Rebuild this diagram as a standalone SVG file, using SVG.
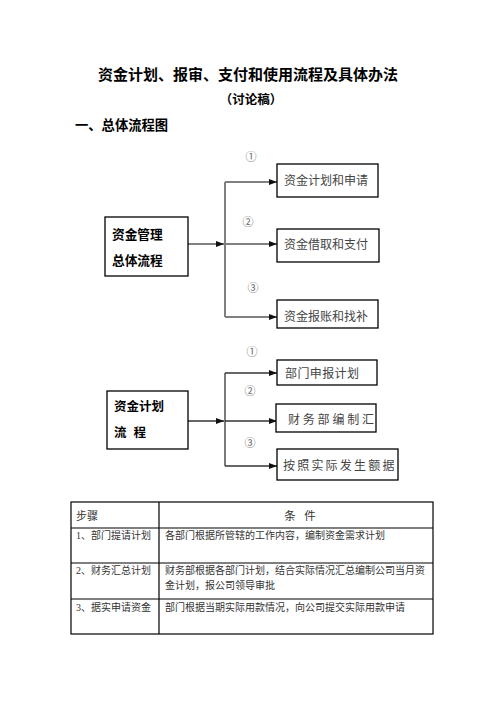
<svg xmlns="http://www.w3.org/2000/svg" width="496" height="702" viewBox="0 0 496 702">
<defs>
<marker id="arr" viewBox="0 0 8 6" refX="8" refY="3" markerWidth="8" markerHeight="6" markerUnits="userSpaceOnUse" orient="auto">
<path d="M0,0 L8,3 L0,6 Z" fill="#111"/>
</marker>
<style>
.t{font-family:"Liberation Serif","Noto Sans CJK SC",serif;}
.b{font-family:"Liberation Sans","Noto Sans CJK SC",sans-serif;font-weight:bold;fill:#000;}
.box{fill:#fff;stroke:#000;stroke-width:1.3;}
.lbl{font-size:12px;fill:#444;}
.num{font-size:11px;fill:#666;text-anchor:middle;}
.c1{stroke:#808080;stroke-width:2;fill:none;}
.c2{stroke:#333;stroke-width:1.3;fill:none;}
.tb{fill:none;stroke:#000;stroke-width:1.2;}
.tt{font-size:10px;fill:#333;}
</style>
</defs>
<rect width="496" height="702" fill="#fff"/>
<g id="title">
<text class="b" x="248" y="80" font-size="15" text-anchor="middle">资金计划、报审、支付和使用流程及具体办法</text>
<text class="b" x="251" y="104" font-size="12.5" text-anchor="middle">（讨论稿）</text>
<text class="b" x="75" y="130" font-size="13.3">一、总体流程图</text>
</g>
<g id="connectors">
<path class="c1" d="M188,244 H224" marker-end="url(#arr)"/>
<path class="c1" d="M225,182 V317"/>
<path class="c1" d="M225,182 H277" marker-end="url(#arr)"/>
<path class="c1" d="M225,244 H277" marker-end="url(#arr)"/>
<path class="c1" d="M225,317 H277" marker-end="url(#arr)"/>
<path class="c2" d="M188,421 H224" marker-end="url(#arr)"/>
<path class="c2" d="M225,373 V466"/>
<path class="c2" d="M225,373 H277" marker-end="url(#arr)"/>
<path class="c2" d="M225,421 H277" marker-end="url(#arr)"/>
<path class="c2" d="M225,466 H277" marker-end="url(#arr)"/>
</g>
<g id="nums" class="t">
<text class="num" x="251" y="161">①</text>
<text class="num" x="248" y="226">②</text>
<text class="num" x="253" y="292">③</text>
<text class="num" x="252" y="356">①</text>
<text class="num" x="250" y="395">②</text>
<text class="num" x="250" y="447">③</text>
</g>
<g id="node-main1">
<rect class="box" x="105" y="217" width="83" height="59"/>
<text class="b" x="112" y="239" font-size="12.7">资金管理</text>
<text class="b" x="112" y="265" font-size="12.7">总体流程</text>
</g>
<g id="node-a1">
<rect class="box" x="277" y="164" width="101" height="33"/>
<text class="t lbl" x="284" y="185">资金计划和申请</text>
</g>
<g id="node-a2">
<rect class="box" x="277" y="229" width="102" height="33"/>
<text class="t lbl" x="284" y="249">资金借取和支付</text>
</g>
<g id="node-a3">
<rect class="box" x="277" y="300" width="101" height="28"/>
<text class="t lbl" x="284" y="321">资金报账和找补</text>
</g>
<g id="node-main2">
<rect class="box" x="107" y="391" width="81" height="58"/>
<text class="b" x="114" y="411" font-size="12.5">资金计划</text>
<text class="b" x="114" y="437" font-size="12.5" xml:space="preserve">流  程</text>
</g>
<g id="node-b1">
<rect class="box" x="277" y="360" width="100" height="25"/>
<text class="t lbl" x="285" y="378" font-size="11" letter-spacing="0.4">部门申报计划</text>
</g>
<g id="node-b2">
<rect class="box" x="276" y="404" width="100" height="28"/>
<text class="t lbl" x="288" y="424" font-size="11" letter-spacing="2.8">财务部编制汇</text>
</g>
<g id="node-b3">
<rect class="box" x="277" y="449" width="121" height="31"/>
<text class="t lbl" x="283" y="470" font-size="11" letter-spacing="2.2">按照实际发生额据</text>
</g>
<g id="table">
<rect class="tb" x="71" y="502" width="362" height="132"/>
<path class="tb" d="M71,528 H433 M71,563 H433 M71,599 H433 M159,502 V634"/>
<text class="t" x="76" y="520" font-size="11" fill="#333">步骤</text>
<text class="t" x="300" y="520" font-size="11.5" fill="#333" text-anchor="middle" xml:space="preserve">条   件</text>
<text class="t tt" x="76" y="539">1、部门提请计划</text>
<text class="t tt" x="165" y="539">各部门根据所管辖的工作内容，编制资金需求计划</text>
<text class="t tt" x="76" y="574">2、财务汇总计划</text>
<text class="t tt" x="165" y="574">财务部根据各部门计划，结合实际情况汇总编制公司当月资</text>
<text class="t tt" x="165" y="589">金计划，报公司领导审批</text>
<text class="t tt" x="76" y="611">3、据实申请资金</text>
<text class="t tt" x="165" y="611">部门根据当期实际用款情况，向公司提交实际用款申请</text>
</g>
</svg>
